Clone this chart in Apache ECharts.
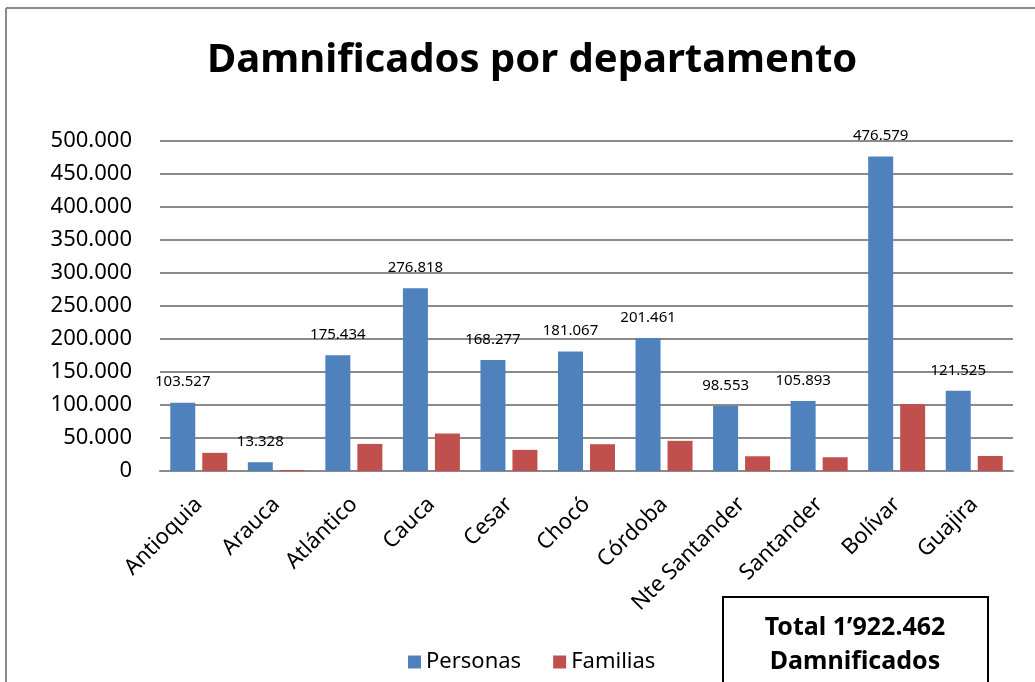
<!DOCTYPE html>
<html>
<head>
<meta charset="utf-8">
<script src="https://cdn.jsdelivr.net/npm/echarts@6/dist/echarts.min.js"></script>
<style>
  html, body { margin: 0; padding: 0; background: #fff; }
  #chart { width: 1035px; height: 682px; }
</style>
</head>
<body>
<div id="chart"></div>
<script>
// datos por departamento
var departamentos = ['Antioquia', 'Arauca', 'Atlántico', 'Cauca', 'Cesar', 'Chocó', 'Córdoba', 'Nte Santander', 'Santander', 'Bolívar', 'Guajira'];
var personas = [103527, 13328, 175434, 276818, 168277, 181067, 201461, 98553, 105893, 476579, 121525];
var familias = [27500, 1500, 41000, 57000, 32000, 40600, 45700, 22300, 20800, 101500, 22800];
var totalTexto = ['Total 1’922.462', 'Damnificados'];

// 103527 -> 103.527
function miles(v) {
  return String(v).replace(/\B(?=(\d{3})+(?!\d))/g, '.');
}

var font = '"Noto Sans", "Open Sans", sans-serif';
var myChart = echarts.init(document.getElementById('chart'));

var options = {
  animation: false,
  textStyle: { fontFamily: font },
  title: {
    text: 'Damnificados por departamento',
    left: 202,
    top: 36,
    textStyle: { fontSize: 40, fontWeight: 'bold', color: '#000', fontFamily: font }
  },
  legend: {
    data: ['Personas', 'Familias'],
    left: 403,
    top: 646,
    icon: 'rect',
    itemWidth: 13,
    itemHeight: 13,
    itemGap: 32,
    textStyle: { fontSize: 22, color: '#000', fontFamily: font }
  },
  grid: {
    left: 160,
    right: 22,
    top: 141,
    bottom: 211,
    containLabel: false
  },
  xAxis: {
    type: 'category',
    data: departamentos,
    axisTick: { show: false },
    axisLine: { lineStyle: { color: '#8a8a8a', width: 2 } },
    axisLabel: {
      rotate: 45,
      interval: 0,
      margin: 30,
      fontSize: 22,
      color: '#000',
      fontFamily: font
    }
  },
  yAxis: {
    type: 'value',
    min: 0,
    max: 500000,
    interval: 50000,
    axisLine: { show: false },
    axisTick: { show: false },
    splitLine: { lineStyle: { color: '#8a8a8a', width: 2 } },
    axisLabel: {
      margin: 28,
      fontSize: 22,
      color: '#000',
      fontFamily: font,
      formatter: function (v) { return miles(v); }
    }
  },
  series: [
    {
      name: 'Personas',
      type: 'bar',
      data: personas,
      barWidth: 25,
      barGap: '28%',
      itemStyle: { color: '#4f81bd' },
      label: {
        show: true,
        position: 'top',
        distance: 13,
        fontSize: 15,
        color: '#000',
        fontFamily: font,
        formatter: function (p) { return miles(p.value); }
      }
    },
    {
      name: 'Familias',
      type: 'bar',
      data: familias,
      barWidth: 25,
      itemStyle: { color: '#c0504d' }
    }
  ],
  graphic: [
    // marco exterior
    { type: 'line', shape: { x1: 6, y1: 8, x2: 1035, y2: 8 }, style: { stroke: '#8a8a8a', lineWidth: 2 } },
    { type: 'line', shape: { x1: 6, y1: 8, x2: 6, y2: 682 }, style: { stroke: '#8a8a8a', lineWidth: 2 } },
    // cuadro del total
    {
      type: 'rect',
      shape: { x: 723, y: 597, width: 265, height: 95 },
      style: { fill: '#fff', stroke: '#000', lineWidth: 2 }
    },
    {
      type: 'text',
      x: 855, y: 628,
      style: { text: totalTexto[0], fontSize: 25, fontWeight: 'bold', fill: '#000', align: 'center', verticalAlign: 'middle', fontFamily: font }
    },
    {
      type: 'text',
      x: 855, y: 662,
      style: { text: totalTexto[1], fontSize: 25, fontWeight: 'bold', fill: '#000', align: 'center', verticalAlign: 'middle', fontFamily: font }
    }
  ]
};

myChart.setOption(options);
window.addEventListener('resize', function () {
  myChart.resize();
});
</script>
</body>
</html>
